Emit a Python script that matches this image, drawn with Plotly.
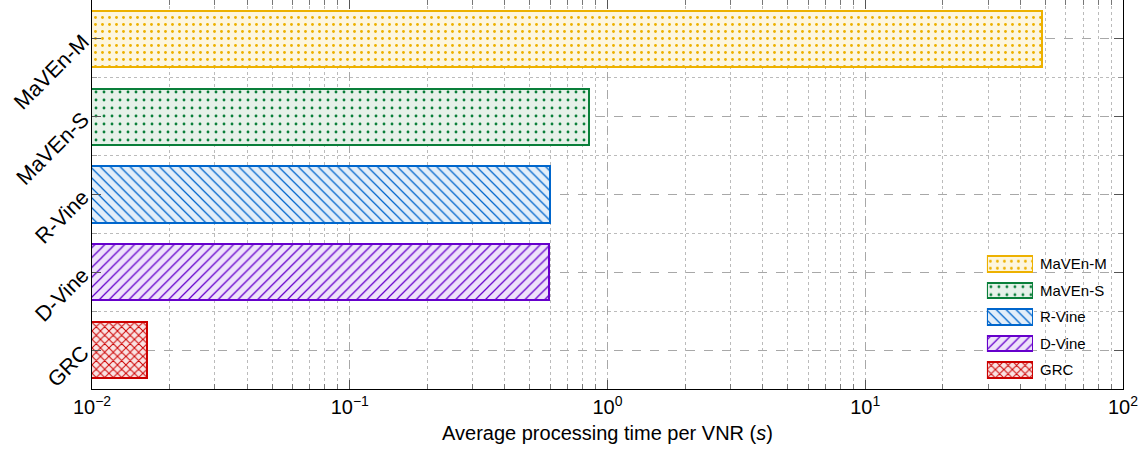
import plotly.graph_objects as go

categories = ["MaVEn-M", "MaVEn-S", "R-Vine", "D-Vine", "GRC"]
times = [48.4, 0.85, 0.60, 0.593, 0.0164]
positions = [4, 3, 2, 1, 0]

x_tickvals = [0.01, 0.1, 1, 10, 100]
x_ticktext = ["10<sup>−2</sup>", "10<sup>−1</sup>", "10<sup>0</sup>",
              "10<sup>1</sup>", "10<sup>2</sup>"]

line_colors = ["#EDB100", "#0A7F3A", "#0066CC", "#6600CC", "#CC0000"]
bg_colors = ["#FDF6DF", "#E6F1E9", "#E3EEF9", "#EEE3FA", "#F9E3E3"]
shapes = [".", ".", "\\", "/", "x"]
sizes = [7, 8, 7, 7, 6]
solidities = [0.13, 0.1, 0.18, 0.18, 0.3]


def pattern(i):
    return dict(shape=shapes[i], fgcolor=line_colors[i], bgcolor=bg_colors[i],
                size=sizes[i], solidity=solidities[i], fillmode="overlay",
                fgopacity=1)


fig = go.Figure()
for i, (cat, t, p) in enumerate(zip(categories, times, positions)):
    fig.add_trace(go.Bar(
        y=[p], x=[t], orientation="h", name=cat, width=0.72,
        showlegend=False,
        marker=dict(color=bg_colors[i], opacity=1,
                    line=dict(color=line_colors[i], width=2),
                    pattern=pattern(i)),
    ))

# legend drawn as a small inset axis
for i, (cat, p) in enumerate(zip(categories, positions)):
    fig.add_trace(go.Bar(
        y=[p], x=[1], orientation="h", name=cat, width=0.58,
        xaxis="x2", yaxis="y2", showlegend=False, hoverinfo="skip",
        marker=dict(color=bg_colors[i], opacity=1,
                    line=dict(color=line_colors[i], width=2),
                    pattern=pattern(i)),
    ))

fig.update_layout(
    width=1148, height=456,
    margin=dict(l=92, r=25, t=0, b=67),
    plot_bgcolor="white", paper_bgcolor="white",
    barmode="stack",
    font=dict(family="Liberation Sans, Arial, sans-serif", color="black"),
    showlegend=False,
    xaxis=dict(
        type="log", range=[-2, 2], tickmode="array", tickvals=x_tickvals,
        ticktext=x_ticktext,
        showline=True, linecolor="black", linewidth=1, mirror="ticks",
        ticks="inside", ticklen=9, tickcolor="#555555",
        tickfont=dict(size=20),
        showgrid=True, gridcolor="#A8A8A8", griddash="dash", gridwidth=1,
        minor=dict(ticks="inside", ticklen=5, tickcolor="#777777", showgrid=True,
                   gridcolor="#BBBBBB", griddash="dot", gridwidth=1, dtick="D1"),
        title=dict(text="Average processing time per VNR (<i>s</i>)",
                   font=dict(size=20), standoff=8),
        zeroline=False, automargin=False,
    ),
    yaxis=dict(
        range=[-0.5, 4.5], tickmode="array", tickvals=positions, ticktext=categories,
        tickangle=-45, tickfont=dict(size=21.5), ticklabelstandoff=4,
        showline=True, linecolor="black", linewidth=1, mirror="ticks",
        ticks="inside", ticklen=9, tickcolor="#555555",
        showgrid=True, gridcolor="#A8A8A8", griddash="dash", gridwidth=1,
        minor=dict(tickmode="array", tickvals=[0.5, 1.5, 2.5, 3.5], ticks="inside",
                   ticklen=5, tickcolor="#999999", showgrid=True,
                   gridcolor="#BBBBBB", griddash="dot", gridwidth=1),
        zeroline=False, automargin=False,
    ),
    xaxis2=dict(domain=[0.868, 0.9127], range=[0, 1], anchor="y2",
                showgrid=False, showticklabels=False, zeroline=False,
                showline=False, ticks=""),
    yaxis2=dict(domain=[0.0148, 0.3554], range=[-0.5, 4.5], anchor="x2",
                side="right", tickmode="array", tickvals=positions,
                ticktext=categories, tickfont=dict(size=15),
                showgrid=False, zeroline=False, showline=False, ticks="",
                ticklabelstandoff=6, automargin=False),
)

fig.write_html("out.html")
